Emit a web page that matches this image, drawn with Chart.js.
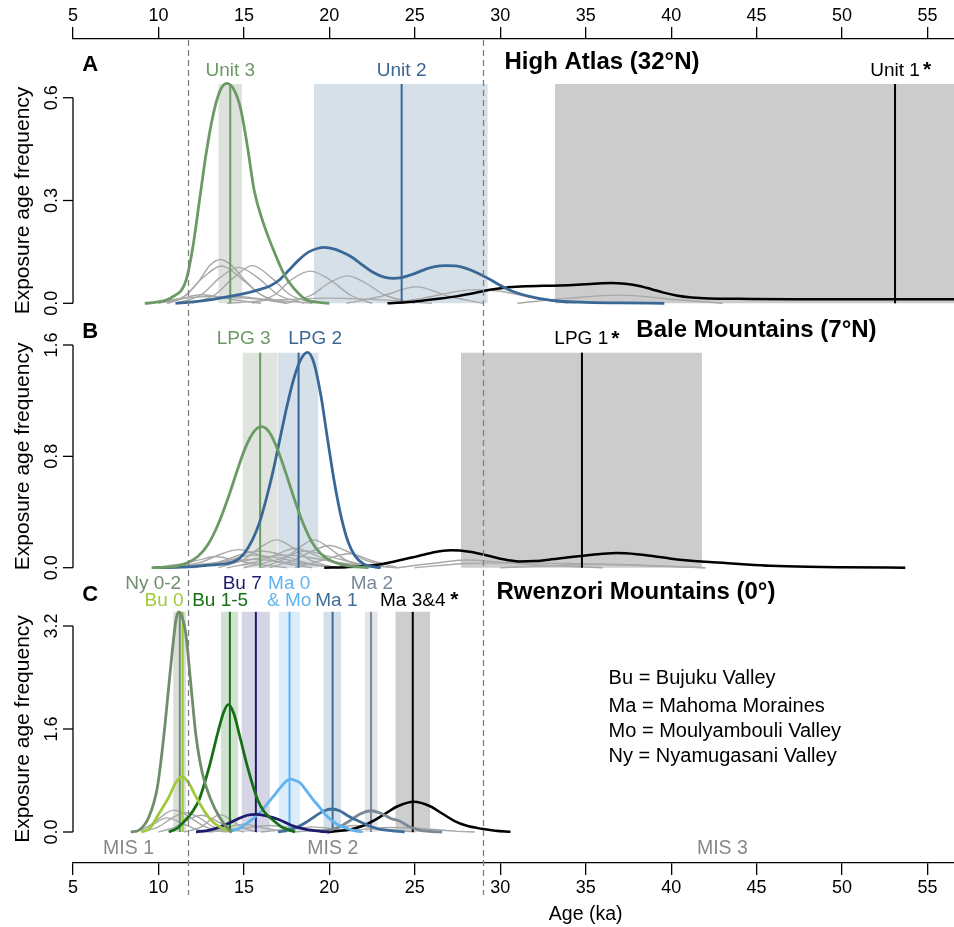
<!DOCTYPE html>
<html>
<head>
<meta charset="utf-8">
<script src="https://cdn.jsdelivr.net/npm/chart.js@4.4.1/dist/chart.umd.min.js"></script>
<style>
html,body{margin:0;padding:0;background:#ffffff;}
#wrap{position:absolute;left:0;top:0;width:954px;height:927px;}
</style>
</head>
<body>
<div id="wrap"><canvas id="c" width="954" height="927"></canvas></div>
<script>
// ================= DATA =================
const ageTicks = [5, 10, 15, 20, 25, 30, 35, 40, 45, 50, 55];
const misBounds = [11.7, 29.0];
const freqTicksA = [0, 0.3, 0.6];
const freqTicksB = [0, 0.8, 1.6];
const freqTicksC = [0, 1.6, 3.2];

// ---- Panel A: High Atlas ----
const groupsA = ['Unit 3', 'Unit 2', 'Unit 1'];
const meansA = [14.2, 24.23, 53.1];
const rangesA = [[13.5, 14.9], [19.1, 29.27], [33.2, 57.0]];
const topA = 0.64;
const unit3Curve = [[9.2,0],[10,0.004],[10.8,0.018],[11.6,0.065],[12.0,0.16],[12.4,0.30],[12.8,0.44],[13.2,0.55],[13.6,0.62],[14.0,0.642],[14.4,0.625],[14.8,0.57],[15.2,0.46],[15.6,0.33],[16.1,0.24],[16.9,0.135],[17.4,0.08],[17.9,0.045],[18.6,0.012],[19.5,0.002],[20,0]];
const unit2Curve = [[11.0,0],[12,0.004],[13,0.01],[14,0.019],[15,0.028],[15.9,0.04],[16.5,0.05],[17.07,0.068],[17.6,0.095],[18.2,0.126],[18.8,0.15],[19.3,0.16],[19.7,0.163],[20.3,0.158],[20.8,0.148],[21.3,0.135],[21.9,0.113],[22.5,0.092],[23.1,0.078],[23.7,0.073],[24.3,0.076],[24.9,0.085],[25.5,0.097],[26.1,0.106],[26.8,0.11],[27.4,0.109],[28.0,0.102],[28.6,0.09],[29.2,0.075],[29.8,0.058],[30.4,0.042],[31.0,0.03],[31.7,0.02],[32.5,0.012],[33.5,0.006],[35,0.003],[37,0.001],[39.6,0]];
const unit1Curve = [[23.4,0],[24.5,0.003],[25.5,0.008],[26.5,0.014],[27.5,0.021],[28.5,0.03],[29.5,0.04],[30.5,0.047],[31.5,0.05],[32.5,0.051],[33.5,0.052],[34.5,0.054],[35.5,0.057],[36.5,0.059],[37.3,0.057],[38.0,0.052],[38.8,0.042],[39.5,0.032],[40.3,0.023],[41.2,0.017],[42.2,0.014],[44,0.013],[47,0.012],[50,0.012],[53,0.012],[56.6,0.012]];
const greyA = [
  [[10.5,0],[11.5,0.02],[12.3,0.06],[13.0,0.11],[13.65,0.128],[14.3,0.11],[15.0,0.07],[16,0.025],[17.5,0]],
  [[10,0],[11.5,0.02],[12.5,0.07],[13.7,0.109],[14.9,0.07],[16,0.025],[17.5,0]],
  [[11,0],[12.5,0.025],[13.6,0.075],[14.7,0.105],[15.8,0.075],[17,0.025],[18.5,0]],
  [[12,0],[13.3,0.025],[14.4,0.075],[15.5,0.11],[16.6,0.075],[17.7,0.025],[19,0]],
  [[15.5,0],[16.8,0.025],[17.8,0.07],[18.9,0.094],[20,0.07],[21.2,0.025],[22.5,0]],
  [[17.5,0],[19,0.025],[20,0.06],[21.05,0.08],[22.1,0.06],[23.2,0.025],[25,0]],
  [[21,0],[23,0.02],[25.1,0.048],[27,0.02],[29,0]],
  [[23.5,0],[25.5,0.015],[27.5,0.035],[28.5,0.04],[30,0.035],[32,0.015],[34,0]],
  [[31,0],[34,0.015],[37,0.024],[40,0.012],[43,0]],
  [[10.5,0],[12.5,0.025],[14.5,0.01],[16,0]],
  [[11.5,0],[14.5,0.02],[17.5,0]],
  [[9.5,0],[11,0.012],[13,0.02],[15,0.015],[17,0.008],[19,0]],
  [[14,0],[17,0.01],[20,0.015],[23,0.01],[26,0]]
];

// ---- Panel B: Bale Mountains ----
const groupsB = ['LPG 3', 'LPG 2', 'LPG 1'];
const meansB = [15.95, 18.2, 34.78];
const rangesB = [[14.92, 16.97], [16.97, 19.37], [27.7, 41.8]];
const topB = 1.545;
const lpg3Curve = [[9.6,0],[10.5,0.004],[11.0,0.01],[11.7,0.035],[12.3,0.08],[12.9,0.167],[13.5,0.314],[14.1,0.51],[14.6,0.695],[15.1,0.866],[15.6,0.979],[16.03,1.013],[16.5,0.971],[17.0,0.84],[17.5,0.663],[18.0,0.475],[18.5,0.309],[19.0,0.18],[19.5,0.1],[20.0,0.055],[20.5,0.03],[21.0,0.015],[21.6,0.006],[22.3,0]];
const lpg2Curve = [[9.8,0],[11,0.003],[12,0.008],[13.2,0.02],[14.0,0.03],[14.5,0.048],[15.0,0.1],[15.5,0.2],[15.9,0.32],[16.3,0.49],[16.7,0.69],[17.1,0.92],[17.5,1.15],[17.9,1.35],[18.3,1.49],[18.73,1.547],[19.1,1.47],[19.5,1.24],[19.9,0.92],[20.3,0.61],[20.7,0.36],[21.1,0.185],[21.5,0.085],[22.0,0.027],[22.7,0.005],[23,0]];
const lpg1Curve = [[19.7,0],[21,0.004],[22.7,0.02],[24,0.05],[25,0.078],[26,0.108],[27.1,0.125],[28.2,0.115],[29,0.095],[30,0.065],[31.1,0.045],[32,0.048],[33,0.06],[34,0.075],[35,0.088],[36,0.1],[36.8,0.105],[38,0.097],[39,0.082],[40,0.065],[41,0.052],[42,0.043],[43,0.035],[44,0.027],[45.8,0.014],[48,0.006],[50,0.003],[53.7,0]];
const greyB = [
  [[13.5,0],[15,0.06],[16,0.15],[16.9,0.2],[17.8,0.15],[18.8,0.06],[20.3,0]],
  [[16,0],[17.3,0.06],[18.3,0.15],[19.1,0.2],[19.9,0.15],[20.9,0.06],[22.3,0]],
  [[16.5,0],[18,0.06],[19,0.12],[20,0.16],[21,0.12],[22,0.06],[23.5,0]],
  [[10.5,0],[12.5,0.04],[13.7,0.1],[14.7,0.13],[15.7,0.1],[17,0.04],[19,0]],
  [[11.5,0],[13.5,0.04],[15,0.1],[16,0.12],[17,0.1],[18.5,0.04],[20.5,0]],
  [[14,0],[16,0.05],[17.2,0.11],[18,0.14],[18.8,0.11],[20,0.05],[22,0]],
  [[11,0],[14,0.03],[16,0.07],[17.5,0.09],[19,0.07],[21,0.03],[24,0]],
  [[9.7,0],[11.5,0.03],[12.5,0.06],[13.3,0.08],[14.3,0.06],[15.5,0.03],[17.5,0]],
  [[18,0],[19.5,0.05],[21.2,0.1],[22.5,0.05],[24,0]],
  [[10,0],[13,0.03],[15.5,0.06],[18,0.03],[21,0]],
  [[24,0],[26,0.03],[28,0.055],[30,0.04],[32,0.02],[34,0.01],[36,0]],
  [[25,0],[28,0.03],[31,0.035],[34,0.03],[37,0.02],[40,0.008],[42,0]],
  [[30,0],[33,0.015],[36,0.025],[39,0.015],[42,0]],
  [[12,0],[14,0.05],[15.5,0.09],[17,0.07],[19,0.02],[20.5,0]],
  [[15,0],[17,0.06],[18.6,0.12],[20,0.08],[22,0.02],[23,0]]
];

// ---- Panel C: Rwenzori Mountains ----
const groupsC = ['Ny 0-2', 'Bu 0', 'Bu 1-5', 'Bu 7', 'Ma 0 & Mo', 'Ma 1', 'Ma 2', 'Ma 3&4'];
const meansC = [11.25, 11.42, 14.18, 15.7, 17.67, 20.19, 22.44, 24.88];
const rangesC = [[10.86, 11.61], [11.3, 11.6], [13.65, 14.68], [14.86, 16.52], [17.03, 18.28], [19.65, 20.68], [22.07, 22.83], [23.86, 25.9]];
const topC = 3.42;
const ny02Curve = [[8.38,0],[8.87,0.03],[9.45,0.24],[9.94,0.70],[10.33,1.53],[10.62,2.31],[10.92,3.08],[11.05,3.33],[11.2,3.42],[11.4,3.33],[11.6,3.08],[11.89,2.31],[12.18,1.53],[12.57,0.91],[13.07,0.50],[13.55,0.24],[14.14,0.03],[14.3,0]];
const bu0Curve = [[9.0,0],[9.5,0.06],[10.04,0.29],[10.62,0.55],[11.0,0.76],[11.37,0.86],[11.75,0.77],[12.19,0.55],[12.77,0.29],[13.25,0.14],[13.75,0.06],[14.3,0]];
const bu15Curve = [[10.6,0],[11.1,0.06],[11.6,0.19],[12.0,0.32],[12.38,0.50],[12.97,1.01],[13.46,1.53],[13.8,1.85],[14.08,1.98],[14.4,1.85],[14.72,1.53],[15.21,1.01],[15.8,0.50],[16.2,0.31],[16.68,0.19],[17.2,0.08],[17.65,0.03],[18.0,0]];
const bu7Curve = [[12.2,0],[13.0,0.03],[13.6,0.08],[14.14,0.14],[14.7,0.21],[15.2,0.26],[15.7,0.275],[16.3,0.25],[17.07,0.19],[17.8,0.10],[18.63,0.04],[19.5,0.01],[20,0]];
const ma0Curve = [[14.1,0],[14.8,0.07],[15.5,0.2],[16.0,0.32],[16.4,0.45],[16.75,0.56],[17.07,0.67],[17.4,0.77],[17.69,0.82],[18.0,0.8],[18.3,0.76],[18.63,0.65],[19.0,0.52],[19.41,0.39],[19.8,0.26],[20.2,0.17],[20.6,0.1],[21.36,0.03],[21.9,0]];
const ma1Curve = [[17.0,0],[17.4,0.02],[18.0,0.062],[18.6,0.143],[19.2,0.25],[19.7,0.33],[20.15,0.357],[20.6,0.33],[21.1,0.25],[21.7,0.17],[22.3,0.1],[22.9,0.045],[23.3,0.03],[24.4,0]];
const ma2Curve = [[19.5,0],[20.0,0.028],[20.6,0.082],[21.2,0.175],[21.8,0.28],[22.44,0.33],[23.1,0.28],[23.6,0.21],[24.1,0.17],[24.7,0.08],[25.27,0.03],[26.0,0.008],[26.6,0]];
const ma34Curve = [[19.9,0],[20.5,0.014],[21.2,0.038],[21.9,0.09],[22.6,0.176],[23.3,0.29],[24.0,0.40],[24.94,0.47],[25.9,0.40],[26.6,0.287],[27.3,0.174],[28.0,0.10],[28.9,0.05],[29.7,0.02],[30.6,0.003]];
const greyC = [
  [[8.5,0],[9.3,0.07],[9.9,0.18],[10.5,0.3],[10.9,0.34],[11.4,0.3],[12.0,0.2],[12.6,0.1],[13.3,0.03],[14,0]],
  [[9,0],[10,0.08],[10.8,0.22],[11.6,0.3],[12.4,0.22],[13.2,0.08],[14.2,0]],
  [[10,0],[11,0.08],[11.8,0.2],[12.5,0.26],[13.2,0.2],[14,0.08],[15,0]],
  [[11.5,0],[12.5,0.08],[13.1,0.2],[13.6,0.27],[14.2,0.2],[14.9,0.07],[15.8,0]],
  [[8.6,0],[9.5,0.09],[10.5,0.22],[11.5,0.12],[12.5,0.02],[13,0]],
  [[13,0],[14.5,0.04],[16.5,0.1],[18.5,0.04],[20,0]],
  [[16,0],[17.5,0.04],[19,0.08],[20.5,0.04],[22,0]],
  [[18,0],[20,0.05],[21.5,0.1],[23,0.05],[25,0]],
  [[20,0],[22,0.04],[23.5,0.07],[25.5,0.05],[27.5,0.01],[28.5,0]],
  [[12.5,0],[13.8,0.06],[15,0.12],[16.2,0.06],[17.5,0]]
];

// ================= STYLES / LAYOUT =================
const FONT = "'Liberation Sans', Arial, Helvetica, sans-serif";
Chart.defaults.font.family = FONT;
const GREEN = '#6b9a64', BLUE = '#3a6896', GREY = '#a9a9a9';
const colA = [GREEN, BLUE, '#000000'];
const boxColA = ['#dde3dc', '#d6e0e8', '#cccccc'];
const colB = [GREEN, BLUE, '#000000'];
const boxColB = ['#dfe4df', '#d5e0e9', '#cccccc'];
const colC = ['#6f8d6c', '#9fcb3a', '#157015', '#1c1c6d', '#5fb3ee', '#3f6e9a', '#7b8896', '#000000'];
const boxColC = ['#d9dfd6', '#e4edcf', '#d2e2d2', '#d6d5e5', '#dbedfb', '#d3dfe9', '#e2e4e8', '#cecece'];

// ================= DATASETS =================
const datasets = [];
function curveDS(pts, yID, color, width, order) {
  return {data: pts.map(p => ({x: p[0], y: p[1]})), yAxisID: yID, xAxisID: 'x', borderColor: color,
    borderWidth: width, pointRadius: 0, fill: false, cubicInterpolationMode: 'monotone', order: order};
}
function boxDS(r, top, yID, color) {
  return {data: [{x: r[0], y: top}, {x: r[1], y: top}], yAxisID: yID, xAxisID: 'x', borderWidth: 0,
    borderColor: 'rgba(0,0,0,0)', backgroundColor: color, fill: 'origin', pointRadius: 0, tension: 0, order: 20};
}
function meanDS(m, top, yID, color) {
  return {data: [{x: m, y: 0}, {x: m, y: top}], yAxisID: yID, xAxisID: 'x', borderColor: color,
    borderWidth: 2, pointRadius: 0, fill: false, tension: 0, order: 5};
}
function addPanel(yID, ranges, means, top, boxCols, cols, greys, curves, widths) {
  ranges.forEach((r, i) => datasets.push(boxDS(r, top, yID, boxCols[i])));
  greys.forEach(g => datasets.push(curveDS(g, yID, GREY, 1.4, 10)));
  means.forEach((m, i) => datasets.push(meanDS(m, top, yID, cols[i])));
  curves.forEach((c, i) => datasets.push(curveDS(c, yID, cols[i], widths[i], 1)));
}
addPanel('yA', rangesA, meansA, topA, boxColA, colA, greyA, [unit3Curve, unit2Curve, unit1Curve], [2.8, 2.8, 2.5]);
addPanel('yB', rangesB, meansB, topB, boxColB, colB, greyB, [lpg3Curve, lpg2Curve, lpg1Curve], [2.8, 2.8, 2.5]);
addPanel('yC', rangesC, meansC, topC, boxColC, colC, greyC,
  [ny02Curve, bu0Curve, bu15Curve, bu7Curve, ma0Curve, ma1Curve, ma2Curve, ma34Curve], [2.8, 2.8, 2.8, 2.8, 2.8, 2.8, 2.8, 2.5]);

// ================= ANNOTATIONS (text placed in data units) =================
const textsA = [
  {t: 'Unit 3', x: 14.2, y: 0.68, c: GREEN}, {t: 'Unit 2', x: 24.23, y: 0.68, c: BLUE}, {t: 'Unit 1', x: 53.1, y: 0.68, c: '#000'}
];
const textsB = [
  {t: 'LPG 3', x: 14.99, y: 1.643, c: GREEN}, {t: 'LPG 2', x: 19.17, y: 1.643, c: BLUE}, {t: 'LPG 1', x: 34.74, y: 1.643, c: '#000'}
];
const textsC = [
  {t: 'Ny 0-2', x: 9.69, y: 3.852, c: colC[0]}, {t: 'Bu 7', x: 14.9, y: 3.852, c: colC[3]},
  {t: 'Ma 0', x: 17.65, y: 3.852, c: colC[4]}, {t: 'Ma 2', x: 22.49, y: 3.852, c: colC[6]},
  {t: 'Bu 0', x: 10.33, y: 3.593, c: colC[1]}, {t: 'Bu 1-5', x: 13.61, y: 3.593, c: colC[2]},
  {t: '& Mo', x: 17.65, y: 3.593, c: colC[4]}, {t: 'Ma 1', x: 20.41, y: 3.593, c: colC[5]},
  {t: 'Ma 3&4', x: 24.88, y: 3.593, c: '#000'}
];
const stars = [{s: 'yA', x: 54.97, y: 0.68}, {s: 'yB', x: 36.73, y: 1.643}, {s: 'yC', x: 27.32, y: 3.593}];
const titles = [
  {s: 'yA', t: 'High Atlas (32°N)', x: 30.25, y: 0.704}, {s: 'yB', t: 'Bale Mountains (7°N)', x: 37.96, y: 1.708},
  {s: 'yC', t: 'Rwenzori Mountains (0°)', x: 29.78, y: 3.728}
];
const letters = [{s: 'yA', t: 'A', y: 0.695}, {s: 'yB', t: 'B', y: 1.696}, {s: 'yC', t: 'C', y: 3.68}];
const legendLines = [
  {t: 'Bu = Bujuku Valley', y: 2.388}, {t: 'Ma = Mahoma Moraines', y: 1.946},
  {t: 'Mo = Moulyambouli Valley', y: 1.569}, {t: 'Ny = Nyamugasani Valley', y: 1.170}
];
const misLabels = [{t: 'MIS 1', x: 8.25}, {t: 'MIS 2', x: 20.2}, {t: 'MIS 3', x: 43.0}];

const overlay = {
  id: 'overlay',
  afterDraw(chart) {
    const ctx = chart.ctx, X = chart.scales.x, area = chart.chartArea;
    const S = {yA: chart.scales.yA, yB: chart.scales.yB, yC: chart.scales.yC};
    const px = v => X.getPixelForValue(v);
    function text(t, x, y, font, color, align) {
      ctx.font = font; ctx.fillStyle = color; ctx.textAlign = align || 'center'; ctx.textBaseline = 'middle';
      ctx.fillText(t, x, y);
    }
    ctx.save();
    // MIS boundaries
    ctx.setLineDash([6, 4]); ctx.strokeStyle = '#808080'; ctx.lineWidth = 1.3;
    misBounds.forEach(b => {
      const x = Math.round(px(b)) + 0.5;
      ctx.beginPath(); ctx.moveTo(x, area.top + 1); ctx.lineTo(x, area.bottom + 32); ctx.stroke();
    });
    ctx.setLineDash([]);
    // y axes
    const left = area.left;
    [[S.yA, freqTicksA], [S.yB, freqTicksB], [S.yC, freqTicksC]].forEach(([s, ticks]) => {
      const y0 = s.getPixelForValue(ticks[0]), y1 = s.getPixelForValue(ticks[ticks.length - 1]);
      ctx.strokeStyle = '#000'; ctx.lineWidth = 1.3;
      ctx.beginPath(); ctx.moveTo(left, y0); ctx.lineTo(left, y1); ctx.stroke();
      ticks.forEach(t => {
        const y = s.getPixelForValue(t);
        ctx.beginPath(); ctx.moveTo(left, y); ctx.lineTo(left - 10, y); ctx.stroke();
        ctx.save(); ctx.translate(56.5, y); ctx.rotate(-Math.PI / 2);
        ctx.font = '18px ' + FONT; ctx.fillStyle = '#000'; ctx.textAlign = 'center'; ctx.textBaseline = 'alphabetic';
        ctx.fillText(t.toFixed(1), 0, 0); ctx.restore();
      });
      ctx.save(); ctx.translate(28.5, (y0 + y1) / 2); ctx.rotate(-Math.PI / 2);
      ctx.font = '21px ' + FONT; ctx.fillStyle = '#000'; ctx.textAlign = 'center'; ctx.textBaseline = 'alphabetic';
      ctx.fillText('Exposure age frequency', 0, 0); ctx.restore();
    });
    // group labels
    textsA.forEach(o => text(o.t, px(o.x), S.yA.getPixelForValue(o.y), '19px ' + FONT, o.c));
    textsB.forEach(o => text(o.t, px(o.x), S.yB.getPixelForValue(o.y), '19px ' + FONT, o.c));
    textsC.forEach(o => text(o.t, px(o.x), S.yC.getPixelForValue(o.y), '19px ' + FONT, o.c));
    stars.forEach(o => text('*', px(o.x), S[o.s].getPixelForValue(o.y), 'bold 21px ' + FONT, '#000'));
    titles.forEach(o => text(o.t, px(o.x), S[o.s].getPixelForValue(o.y), 'bold 24px ' + FONT, '#000', 'left'));
    letters.forEach(o => text(o.t, px(6.0), S[o.s].getPixelForValue(o.y), 'bold 22px ' + FONT, '#000'));
    legendLines.forEach(o => text(o.t, px(36.34), S.yC.getPixelForValue(o.y), '20px ' + FONT, '#000', 'left'));
    misLabels.forEach(o => text(o.t, px(o.x), S.yC.getPixelForValue(-0.264), '19.5px ' + FONT, '#888888'));
    text('Age (ka)', px(35.0), S.yC.getPixelForValue(-1.289), '19.5px ' + FONT, '#000');
    ctx.restore();
  }
};

function xAxis(pos, h, pad) {
  return {
    type: 'linear', position: pos, min: 5, max: 56.55,
    afterFit: s => { s.height = h; },
    afterBuildTicks: s => { s.ticks = ageTicks.map(v => ({value: v})); },
    ticks: {font: {size: 18}, color: '#000', padding: pad, maxRotation: 0, autoSkip: false, includeBounds: false},
    grid: {drawOnChartArea: false, drawTicks: true, tickLength: 12, color: '#000', lineWidth: 1.3},
    border: {display: true, color: '#000', width: 1.3}
  };
}

new Chart(document.getElementById('c').getContext('2d'), {
  type: 'line',
  data: {datasets: datasets},
  options: {
    responsive: false, animation: false, devicePixelRatio: 1, events: [],
    layout: {padding: {left: 73, right: 0, top: 0, bottom: 0}},
    plugins: {legend: {display: false}, tooltip: {enabled: false}},
    scales: {
      x: xAxis('bottom', 64, 2),
      x2: xAxis('top', 39, 0),
      yA: {type: 'linear', position: 'left', display: false, stack: 'panels', stackWeight: 281, weight: 3, min: -0.0487, max: 0.7713},
      yB: {type: 'linear', position: 'left', display: false, stack: 'panels', stackWeight: 264, weight: 2, min: -0.1171, max: 1.7796},
      yC: {type: 'linear', position: 'left', display: false, stack: 'panels', stackWeight: 279, weight: 1, min: -0.4816, max: 3.8524}
    }
  },
  plugins: [overlay]
});
</script>
</body>
</html>
